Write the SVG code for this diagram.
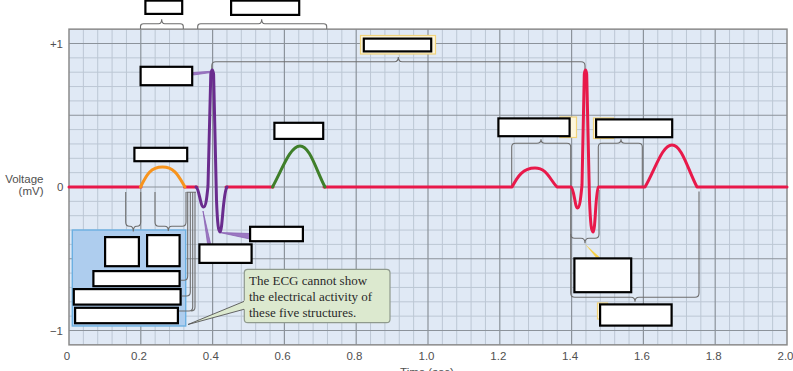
<svg xmlns="http://www.w3.org/2000/svg" width="793" height="371" viewBox="0 0 793 371">
<defs>
<style>
.minor{stroke:#bcc7d4;stroke-width:1;fill:none}
.major{stroke:#8c939b;stroke-width:1.2;fill:none}
.ax{font-family:"Liberation Sans",Arial,sans-serif;font-size:11.5px;fill:#505050}
.tr{fill:none;stroke-width:3;stroke-linecap:round;stroke-linejoin:round}
.br{fill:none;stroke:#6e6e6e;stroke-width:1.1}
.lbl{fill:#fff;stroke:#000;stroke-width:2.2}
.halo{fill:#fdf6dc;stroke:#f1d37a;stroke-width:1.2}
.pl{fill:#9c78c2;stroke:#8a62b4;stroke-width:0.8}
.ct{font-family:"Liberation Serif","Times New Roman",serif;font-size:13px;fill:#2a2a2a}
</style>
</defs>
<rect width="793" height="371" fill="#fff"/>
<g id="plot">
<rect x="69" y="29.15" width="718" height="315.7" fill="#e0e9f5"/>
<path class="minor" d="M83.36 29.15V344.85M97.72 29.15V344.85M112.08 29.15V344.85M126.44 29.15V344.85M155.16 29.15V344.85M169.52 29.15V344.85M183.88 29.15V344.85M198.24 29.15V344.85M226.96 29.15V344.85M241.32 29.15V344.85M255.68 29.15V344.85M270.04 29.15V344.85M298.76 29.15V344.85M313.12 29.15V344.85M327.48 29.15V344.85M341.84 29.15V344.85M370.56 29.15V344.85M384.92 29.15V344.85M399.28 29.15V344.85M413.64 29.15V344.85M442.36 29.15V344.85M456.72 29.15V344.85M471.08 29.15V344.85M485.44 29.15V344.85M514.16 29.15V344.85M528.52 29.15V344.85M542.88 29.15V344.85M557.24 29.15V344.85M585.96 29.15V344.85M600.32 29.15V344.85M614.68 29.15V344.85M629.04 29.15V344.85M657.76 29.15V344.85M672.12 29.15V344.85M686.48 29.15V344.85M700.84 29.15V344.85M729.56 29.15V344.85M743.92 29.15V344.85M758.28 29.15V344.85M772.64 29.15V344.85M69 57.85H787M69 72.2H787M69 86.55H787M69 100.9H787M69 129.6H787M69 143.95H787M69 158.3H787M69 172.65H787M69 201.35H787M69 215.7H787M69 230.05H787M69 244.4H787M69 273.1H787M69 287.45H787M69 301.8H787M69 316.15H787"/>
<path class="major" d="M140.8 29.15V344.85M212.6 29.15V344.85M284.4 29.15V344.85M356.2 29.15V344.85M428 29.15V344.85M499.8 29.15V344.85M571.6 29.15V344.85M643.4 29.15V344.85M715.2 29.15V344.85M69 43.5H787M69 115.25H787M69 187H787M69 258.75H787M69 330.5H787"/>
<rect x="69" y="29.15" width="718" height="315.7" fill="none" stroke="#8a8a8a" stroke-width="1.5"/>
</g>
<g id="axes">
<text class="ax" x="63" y="47.5" text-anchor="end">+1</text>
<text class="ax" x="63.5" y="191" text-anchor="end">0</text>
<text class="ax" x="63" y="335" text-anchor="end">−1</text>
<text class="ax" x="43.5" y="183" text-anchor="end" font-size="12">Voltage</text>
<text class="ax" x="43.5" y="195" text-anchor="end" font-size="12">(mV)</text>
<g text-anchor="middle">
<text class="ax" x="67" y="360">0</text>
<text class="ax" x="139" y="360">0.2</text>
<text class="ax" x="210.8" y="360">0.4</text>
<text class="ax" x="282.6" y="360">0.6</text>
<text class="ax" x="354.4" y="360">0.8</text>
<text class="ax" x="426.5" y="360">1.0</text>
<text class="ax" x="498.3" y="360">1.2</text>
<text class="ax" x="570.1" y="360">1.4</text>
<text class="ax" x="641.9" y="360">1.6</text>
<text class="ax" x="713.7" y="360">1.8</text>
<text class="ax" x="785.5" y="360">2.0</text>
</g>
<text class="ax" x="427" y="375.5" text-anchor="middle" font-size="12">Time (sec)</text>
</g>
<g id="leftpanel">
<rect x="72.3" y="230" width="113.4" height="96" fill="#aecdee" stroke="#6cb0e2" stroke-width="1.4"/>
</g>
<g id="connectors">
<path class="br" d="M140.5 29V26.5Q140.5 23.8 143.5 23.8H158.5Q161.7 23.8 161.7 19.3Q161.7 23.8 164.9 23.8H180.3Q183.3 23.8 183.3 26.5V29"/>
<path class="br" d="M197.7 29V26.5Q197.7 23.8 200.7 23.8H258.5Q261.7 23.8 261.7 19.3Q261.7 23.8 264.9 23.8H323.7Q326.7 23.8 326.7 26.5V29"/>
<path class="br" d="M211.8 70V65.7Q211.8 61.7 215.8 61.7H394.5Q398.3 61.7 398.3 57Q398.3 61.7 402.1 61.7H581Q585 61.7 585 65.7V69"/>
<path class="br" d="M125.7 192V222Q125.7 226.3 129.5 226.3H130Q133.3 226.3 133.3 231.5Q133.3 226.3 136.6 226.3H137Q140.7 226.3 140.7 222V192"/>
<path class="br" d="M155 192V222Q155 226.3 158.8 226.3H164.8Q168.3 226.3 168.3 231Q168.3 226.3 171.8 226.3H182.2Q186 226.3 186 222V192"/>
<path class="br" d="M186.5 192.3H196M187.7 192.3V276Q187.7 280.3 184 280.3H181M190.3 192.3V292Q190.3 296 186.5 296H182M192.7 192.3V307Q192.7 311 189 311H179M195 192.3V307Q195 311 191 311"/>
<path class="br" d="M511.7 186V147Q511.7 143.3 515.5 143.3H537Q541 143.3 541 139.3Q541 143.3 545 143.3H567Q570.7 143.3 570.7 147V293Q570.7 297.3 575 297.3H631Q635 297.3 635 301.7Q635 297.3 639 297.3H695Q699 297.3 699 293V191.5"/>
<path class="br" d="M598.3 186V147Q598.3 143.3 602 143.3H617Q621 143.3 621 139.3Q621 143.3 625 143.3H638.5Q642.3 143.3 642.3 147V186"/>
<path class="br" d="M570.7 234Q570.7 238.3 574.7 238.3H581Q585 238.3 585 243.3Q585 238.3 589 238.3H595Q599 238.3 599 234V190"/>
<polygon points="585,244 596,257.5 600,257.5" fill="#f5d04a"/>
<polygon class="pl" points="193.3,72.5 210.5,71.3 210.5,72.6 193.3,75"/>
<polygon class="pl" points="203,211 210.5,243.5 207.5,243.5"/>
<polygon class="pl" points="219.5,232.5 250,233.5 250,239"/>
</g>
<g id="trace">
<path class="tr" stroke="#e8194a" d="M69 187H141M184.5 187H197M226 187H273M324 187H512C518 176 523 168 535 168C547 168 550 180 557 187H571C574 188 575 208 577.5 208C580 208 581 195 582 185L584.3 74Q585.5 66 586.7 74L589.5 200C590.5 225 591.5 232 593 232C595.5 232 595.5 190 598.5 187H645C655 170 662 145 672 145C682 145 688 170 697 187H787"/>
<path class="tr" stroke="#f7941d" d="M140.5 187C146.5 175 150.5 167 162.5 167C174.5 167 178.5 176 185 187"/>
<path class="tr" stroke="#6a2c8e" d="M196 187C199 188 200.5 207 203.5 207C206 207 207 196 208 186L210.8 74Q212.2 66 213.6 74L216.5 200C217.5 225 218.5 232 220 232C222.5 232 223 192 227 187"/>
<path class="tr" stroke="#3f7f2a" d="M272.5 187C282 170 290 146 300 146C310 146 316 170 325 187"/>
</g>
<g id="label-top1"><rect class="lbl" x="145.4" y="0.6" width="36.8" height="13.3"/></g>
<g id="label-top2"><rect class="lbl" x="231.1" y="0.6" width="68.1" height="14.3"/></g>
<g id="label-rr"><rect class="halo" x="360.5" y="35.5" width="75" height="18.5"/><rect class="lbl" x="363.8" y="38.6" width="67.4" height="12.8"/></g>
<g id="label-r"><rect class="lbl" x="140.6" y="66.8" width="51.6" height="18.4"/></g>
<g id="label-t"><rect class="lbl" x="274.4" y="122.8" width="48.8" height="16.1"/></g>
<g id="label-p"><rect class="lbl" x="134.4" y="147.8" width="52.8" height="13.4"/></g>
<g id="label-pr"><rect class="halo" x="560" y="117" width="16.5" height="20.5"/><rect class="lbl" x="498.4" y="118.4" width="71.2" height="17.8"/></g>
<g id="label-st"><rect class="halo" x="593.5" y="118" width="20" height="20.5"/><rect class="lbl" x="596.1" y="119.4" width="76.1" height="17.8"/></g>
<g id="label-qrs"><rect class="lbl" x="574.4" y="258.4" width="56.8" height="33.8"/></g>
<g id="label-qt"><rect class="halo" x="597.5" y="303" width="10" height="16"/><rect class="lbl" x="600.1" y="304.4" width="71.5" height="21.2"/></g>
<g id="label-q"><rect class="lbl" x="199.4" y="244.4" width="52.2" height="18.5"/></g>
<g id="label-s"><rect class="lbl" x="250.1" y="226.8" width="52.8" height="14.4"/></g>
<g id="label-b1"><rect class="lbl" x="105.1" y="237.1" width="33.8" height="29.1"/></g>
<g id="label-b2"><rect class="lbl" x="147.1" y="235.1" width="32.5" height="31.1"/></g>
<g id="label-b3"><rect class="lbl" x="93.4" y="271.1" width="86.2" height="15.1"/></g>
<g id="label-b4"><rect class="lbl" x="73.8" y="289.1" width="106.8" height="15.5"/></g>
<g id="label-b5"><rect class="lbl" x="75.1" y="307.8" width="102.8" height="15.4"/></g>
<g id="callout">
<rect x="244.3" y="269.3" width="145.7" height="53.4" rx="3.5" fill="#dce9cf" stroke="#8f9a8d" stroke-width="1.2"/>
<polygon points="188,324.5 245,301 245,309" fill="#dce9cf" stroke="#555" stroke-width="0.9"/>
<rect x="244" y="300.5" width="2" height="9" fill="#dce9cf"/>
<text class="ct" x="249" y="285">The ECG cannot show</text>
<text class="ct" x="249" y="300.7">the electrical activity of</text>
<text class="ct" x="249" y="316.7">these five structures.</text>
</g>
</svg>
